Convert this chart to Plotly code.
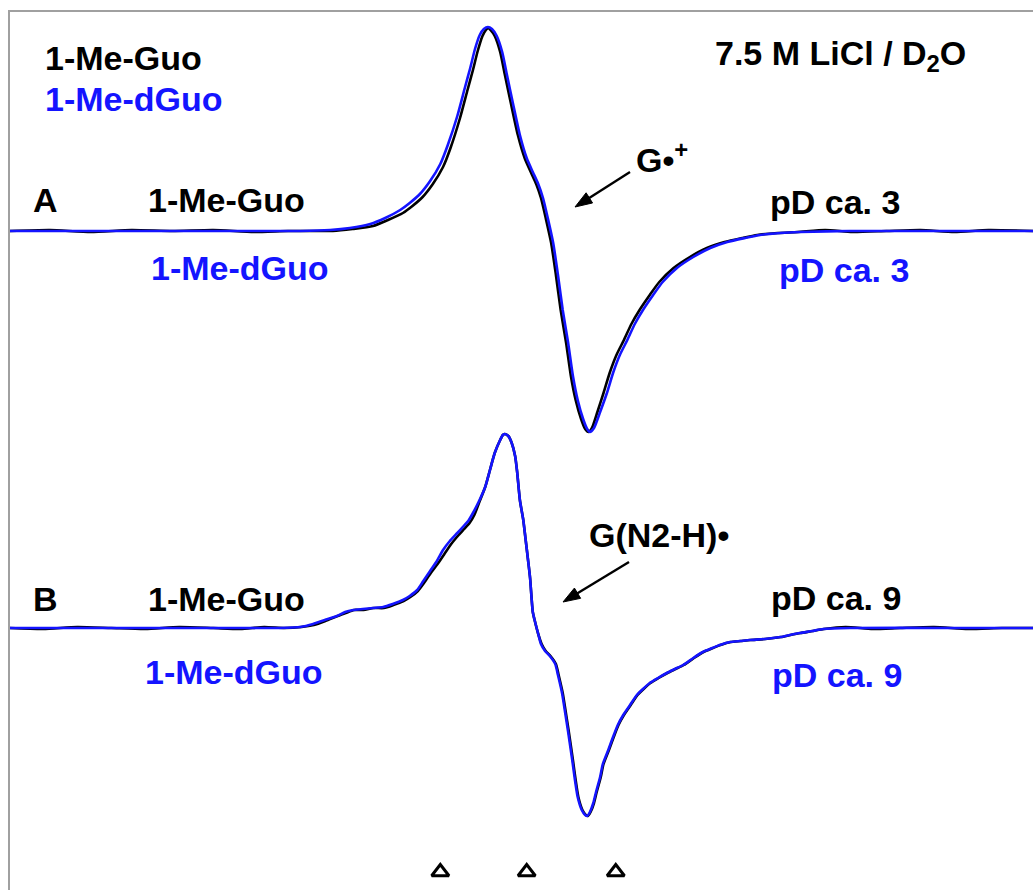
import math
import plotly.graph_objects as go

# ---------------- data (field offset in G, signal in arbitrary units) ----------------
# Spectrum A (pD ca. 3, G•+)
a_blue_field = [-75.9, -55.3, -40.6, -33.2, -28.8, -25.9, -22.9, -20.7, -18.5, -17.1, -15.6, -14.1,
                -12.6, -11.5, -10.1, -9.0, -8.2, -7.5, -6.8, -6.2, -5.6, -5.0, -4.3, -3.5, -2.8, -1.9,
                -0.9, 0.1, 1.0, 1.8, 2.5, 3.2, 4.0, 4.7, 5.4, 6.2, 6.9, 7.6, 8.4, 9.0, 9.4, 10.0, 10.9,
                11.9, 12.8, 13.8, 14.9, 16.0, 17.2, 18.7, 20.1, 22.2, 24.6, 27.1, 29.6, 32.2, 34.4,
                37.4, 40.3, 47.6, 62.4, 74.6]
a_blue_signal = [0, 0, 0, 0, 1, 3, 7, 13, 21, 28, 37, 50, 67, 86, 115, 143, 163, 182, 196, 202, 204,
                 202, 195, 179, 156, 127, 96, 73, 59, 47, 33, 13, -12, -44, -79, -112, -145, -169, -188,
                 -198, -201, -197, -181, -162, -142, -124, -109, -93, -79, -64, -51, -37, -26, -17, -11,
                 -7, -4, -2, -1, 0, 0, 0]

a_black_field = [-75.9, -70, -64, -58, -52, -46, -40, -35, -31, -28.4, -25.5, -22.5, -20.3, -18.1,
                 -16.7, -15.2, -13.7, -12.2, -11.1, -9.7, -8.6, -7.8, -7.1, -6.4, -5.9, -5.6, -5.2,
                 -4.6, -3.8, -3.1, -2.2, -1.2, -0.2, 0.7, 1.5, 2.2, 2.9, 3.7, 4.4, 5.1, 5.9, 6.6, 7.3,
                 8.1, 8.7, 9.2, 9.7, 10.5, 11.4, 12.3, 13.3, 14.4, 15.5, 16.7, 18.2, 19.6, 21.7, 24.1,
                 26.6, 29.2, 31.8, 34.0, 37.0, 40.0, 44, 48, 53, 58, 63, 68, 74.6]
a_black_signal = [0, 1, -1, 1, 0, 1, -1, 0, 0, 0, 2, 5, 11, 18, 25, 34, 47, 64, 83, 113, 141, 161, 180,
                  195, 201, 203, 201, 195, 179, 156, 127, 96, 73, 59, 47, 33, 13, -12, -44, -79, -112,
                  -145, -169, -188, -198, -201, -197, -181, -162, -142, -124, -109, -93, -79, -64, -51,
                  -37, -26, -17, -11, -7, -4, -2, -1, 1, -1, 0, 1, -1, 1, 0]

# Spectrum B (pD ca. 9, G(N2-H)•)
b_blue_field = [-75.9, -55.3, -40.6, -36.2, -33.2, -31.3, -29.6, -27.8, -26.6, -25.4, -24.0, -22.5,
                -21.0, -19.6, -18.1, -17.1, -16.0, -15.1, -14.1, -13.1, -12.2, -11.2, -10.1, -9.3,
                -8.5, -7.8, -6.9, -6.0, -5.3, -4.6, -3.8, -3.4, -3.1, -2.6, -2.1, -1.6, -1.3, -0.9,
                -0.4, -0.1, 0.3, 0.6, 1.0, 1.3, 1.8, 2.2, 2.8, 3.5, 4.3, 4.7, 5.3, 5.7, 6.2, 6.8, 7.2,
                7.6, 8.2, 8.7, 9.0, 9.4, 9.9, 10.3, 10.9, 11.3, 12.1, 12.8, 13.5, 14.3, 15.3, 16.3,
                17.2, 18.2, 19.4, 20.7, 21.9, 23.1, 24.6, 26.0, 27.4, 28.5, 30.0, 31.5, 32.9, 35.1,
                37.4, 38.8, 40.3, 42.1, 43.7, 47.6, 62.4, 74.6]
b_blue_signal = [0, 0, 0, 0, 1, 4, 8, 12, 16, 18, 19, 20, 21, 24, 28, 32, 38, 47, 57, 67, 78, 87, 95,
                 101, 107, 115, 127, 141, 158, 175, 188, 193, 194, 192, 185, 172, 156, 128, 108, 91, 68,
                 50, 16, 7, -6, -16, -23, -28, -36, -47, -65, -82, -104, -132, -152, -169, -182, -187,
                 -188, -184, -175, -164, -149, -136, -122, -109, -97, -87, -77, -67, -61, -55, -50, -45,
                 -41, -37, -30, -24, -20, -17, -14, -13, -12, -11, -9, -7, -5, -3, -1, 0, 0, 0]

b_black_field = [-75.9, -71, -66, -61, -56, -51, -46, -42, -38.5, -35.5, -33.0, -31.2, -29.5, -27.7,
                 -26.5, -25.3, -23.9, -22.4, -20.9, -19.5, -18.0, -17.0, -15.9, -15.0, -14.0, -13.0,
                 -12.0, -11.0, -9.9, -9.1, -8.3, -7.6, -6.8, -6.0, -5.3, -4.6, -3.8, -3.4, -3.1, -2.6,
                 -2.1, -1.6, -1.3, -0.9, -0.4, -0.1, 0.3, 0.6, 1.0, 1.3, 1.8, 2.3, 2.9, 3.6, 4.4, 4.8,
                 5.4, 5.8, 6.3, 6.9, 7.3, 7.7, 8.3, 8.8, 9.1, 9.5, 10.0, 10.4, 11.0, 11.4, 12.2, 12.9,
                 13.6, 14.4, 15.4, 16.4, 17.3, 18.3, 19.5, 20.8, 22.0, 23.2, 24.7, 26.1, 27.5, 28.6,
                 30.1, 31.6, 33.0, 35.2, 37.5, 38.9, 40.4, 42.2, 43.8, 47, 51, 55, 60, 65, 70, 74.6]
b_black_signal = [0, -1, 1, 0, -1, 1, 0, -1, 1, 0, 1, 3, 7, 12, 15, 18, 18, 20, 20, 23, 27, 31, 37, 45,
                  55, 64, 74, 84, 93, 99, 105, 113, 127, 141, 158, 175, 188, 193, 194, 192, 185, 172,
                  156, 128, 108, 91, 68, 50, 16, 7, -6, -16, -23, -28, -36, -47, -65, -82, -104, -132,
                  -152, -169, -182, -187, -188, -184, -175, -164, -149, -136, -122, -109, -97, -87, -77,
                  -67, -61, -55, -50, -45, -41, -37, -30, -24, -20, -17, -14, -13, -12, -11, -9, -7, -5,
                  -3, -1, 1, -1, 0, 1, -1, 0, 0]

# field markers (open triangles)
marker_fields = [-12.6, 0.1, 13.2]

assert len(a_blue_field) == len(a_blue_signal)
assert len(a_black_field) == len(a_black_signal)
assert len(b_blue_field) == len(b_blue_signal)
assert len(b_black_field) == len(b_black_signal)

# ---------------- layout constants ----------------
W, H = 1033, 890
ML, MT = 10, 12
PX_PER_G = 6.8
X0_PX = 526           # pixel of field 0
OFFSET_A = 890 - 231  # vertical stacking offsets
OFFSET_B = 890 - 628
BLUE = "#1414ff"
FONT = "Liberation Sans, Arial, sans-serif"
FS = 34


def fx(px):
    return (px - X0_PX) / PX_PER_G


def fy(py):
    return H - py


fig = go.Figure()

for xs, ys, off, col in [
    (a_black_field, a_black_signal, OFFSET_A, "black"),
    (b_black_field, b_black_signal, OFFSET_B, "black"),
    (a_blue_field, a_blue_signal, OFFSET_A, BLUE),
    (b_blue_field, b_blue_signal, OFFSET_B, BLUE),
]:
    fig.add_trace(go.Scatter(
        x=xs, y=[v + off for v in ys], mode="lines",
        line=dict(color=col, width=2.6, shape="spline", smoothing=0.6),
        showlegend=False, hoverinfo="skip"))

fig.add_trace(go.Scatter(
    x=marker_fields, y=[fy(872)] * len(marker_fields), mode="markers",
    marker=dict(symbol="triangle-up-open", size=15, color="black", line=dict(width=3, color="black")),
    showlegend=False, hoverinfo="skip"))

labels = [
    ("1-Me-Guo", 43, 58, "black"),
    ("1-Me-dGuo", 43, 99, BLUE),
    ("7.5 M LiCl / D<sub>2</sub>O", 713, 55, "black"),
    ("A", 31, 200, "black"),
    ("1-Me-Guo", 146, 200, "black"),
    ("1-Me-dGuo", 149, 268, BLUE),
    ("pD ca. 3", 768, 202, "black"),
    ("pD ca. 3", 777, 270, BLUE),
    ("G•<sup>+</sup>", 634, 157, "black"),
    ("B", 31, 599, "black"),
    ("1-Me-Guo", 146, 599, "black"),
    ("1-Me-dGuo", 143, 672, BLUE),
    ("pD ca. 9", 769, 598, "black"),
    ("pD ca. 9", 770, 675, BLUE),
    ("G(N2-H)•", 587, 535, "black"),
]

annotations = []
for text, px, py, col in labels:
    annotations.append(dict(
        x=fx(px), y=fy(py), xref="x", yref="y", text="<b>" + text + "</b>",
        showarrow=False, xanchor="left", yanchor="middle",
        font=dict(family=FONT, size=FS, color=col)))

# arrows drawn as shapes (line + filled head), geometry computed in pixel space
shapes = []
HEAD_L, HEAD_W = 17, 12
for (tx, ty), (hx, hy) in [((630, 172), (575, 207)), ((629, 562), (563, 602))]:
    dx, dy = hx - tx, hy - ty
    L = math.hypot(dx, dy)
    ux, uy = dx / L, dy / L
    bx, by = hx - ux * HEAD_L, hy - uy * HEAD_L
    nx, ny = -uy, ux
    p1 = (bx + nx * HEAD_W / 2, by + ny * HEAD_W / 2)
    p2 = (bx - nx * HEAD_W / 2, by - ny * HEAD_W / 2)
    shapes.append(dict(type="line", xref="x", yref="y",
                       x0=fx(tx), y0=fy(ty), x1=fx(bx + ux * 2), y1=fy(by + uy * 2),
                       line=dict(color="black", width=2.4)))
    path = "M {} {} L {} {} L {} {} Z".format(fx(hx), fy(hy), fx(p1[0]), fy(p1[1]), fx(p2[0]), fy(p2[1]))
    shapes.append(dict(type="path", xref="x", yref="y", path=path,
                       fillcolor="black", line=dict(color="black", width=1)))

fig.update_layout(
    width=W, height=H,
    margin=dict(l=ML, r=0, t=MT, b=0, pad=0),
    paper_bgcolor="white", plot_bgcolor="white",
    annotations=annotations,
    shapes=shapes,
    xaxis=dict(range=[fx(ML), fx(W)], showgrid=False, zeroline=False, showticklabels=False,
               ticks="", showline=True, side="top", linecolor="#a0a0a0", linewidth=2),
    yaxis=dict(range=[0, H - MT], showgrid=False, zeroline=False, showticklabels=False,
               ticks="", showline=True, linecolor="#a0a0a0", linewidth=2),
)

fig.write_html("out.html", config={"displayModeBar": False},
               post_script="document.body.style.margin='0';document.body.style.overflow='hidden';")
